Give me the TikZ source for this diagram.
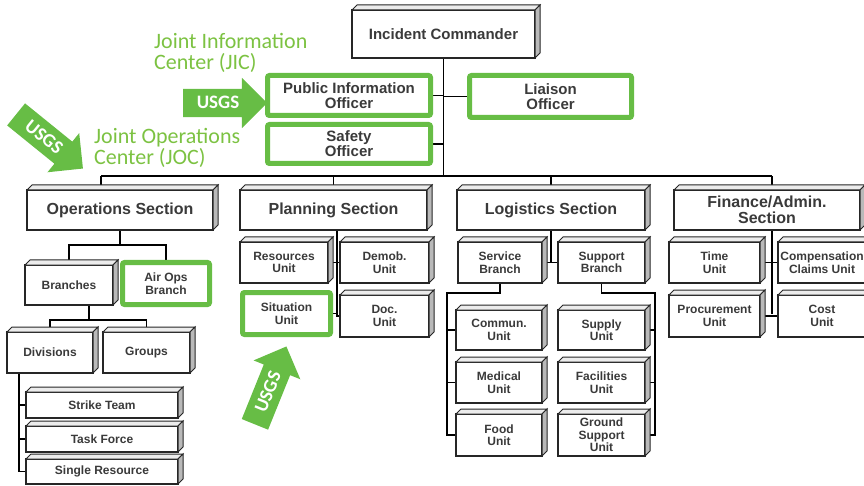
\documentclass[tikz,border=0pt]{standalone}
\usepackage{fontspec}
\setmainfont{Liberation Sans}
\newfontfamily\carlito{Carlito}
\usetikzlibrary{shapes.arrows}
\definecolor{usgsgreen}{RGB}{103,189,69}
\definecolor{labelgreen}{RGB}{124,194,66}
\definecolor{boxtext}{RGB}{58,58,58}
\pgfdeclarelayer{back}
\pgfsetlayers{back,main}

\begin{document}
\begin{tikzpicture}[x=1pt,y=-1pt,
chartbox/.style={draw=black!85, line width=1.2pt, fill=white, text=boxtext, align=center, inner sep=0pt, outer sep=0pt, font=\bfseries\fontsize{12}{12.5}\selectfont},
secbox/.style={chartbox, font=\bfseries\fontsize{16}{16}\selectfont},
offbox/.style={chartbox, font=\bfseries\fontsize{15}{15}\selectfont},
greenbox/.style={chartbox, draw=usgsgreen, line width=5pt, rounded corners=2pt},
wire/.style={draw=black, line width=1.5pt},
bevel/.style={draw=black!85, line width=1pt, fill=#1},
jic/.style={text=labelgreen, align=left, inner sep=0pt, font=\carlito\fontsize{22}{21}\selectfont},
usgs/.style={single arrow, fill=usgsgreen, text=white, single arrow head extend=11pt, inner xsep=3pt, inner ysep=8pt, text height=12pt, text depth=0pt, minimum height=#1, font=\carlito\bfseries\fontsize{19}{19}\selectfont}
]
\useasboundingbox (0,0) rectangle (864,486);

\node[offbox, minimum width=183pt, minimum height=48pt] (ic) at (443.5,34) {Incident Commander};
\node[offbox, greenbox, font=\bfseries\fontsize{15}{15}\selectfont, minimum width=163pt, minimum height=40pt] (pio) at (349,95.5) {Public Information\\Officer};
\node[offbox, greenbox, font=\bfseries\fontsize{15}{15}\selectfont, minimum width=163pt, minimum height=39pt] (safety) at (349,144) {Safety\\Officer};
\node[offbox, greenbox, font=\bfseries\fontsize{15}{15}\selectfont, minimum width=162pt, minimum height=42pt] (liaison) at (550.5,96.5) {Liaison\\Officer};

\node[secbox, minimum width=186pt, minimum height=40pt] (ops) at (120,210) {Operations Section};
\node[secbox, minimum width=187pt, minimum height=40pt] (plan) at (333.5,210) {Planning Section};
\node[secbox, minimum width=188pt, minimum height=40pt] (log) at (551,210) {Logistics Section};
\node[secbox, minimum width=186pt, minimum height=40pt] (fin) at (767,210) {Finance/Admin.\\Section};

\node[chartbox, minimum width=88pt, minimum height=40pt] (branch) at (69,285) {Branches};
\node[greenbox, minimum width=87pt, minimum height=42pt] (airops) at (166,283.5) {Air Ops\\Branch};
\node[chartbox, minimum width=86pt, minimum height=41pt] (div) at (50,352.5) {Divisions};
\node[chartbox, minimum width=87pt, minimum height=41pt] (groups) at (146.5,352.5) {Groups};
\node[chartbox, minimum width=152pt, minimum height=26pt] (strike) at (102,405) {Strike Team};
\node[chartbox, minimum width=152pt, minimum height=26pt] (task) at (102,439) {Task Force};
\node[chartbox, minimum width=152pt, minimum height=25pt] (single) at (102,471.5) {Single Resource};

\node[chartbox, minimum width=88pt, minimum height=41pt] (res) at (284,262.5) {Resources\\Unit};
\node[chartbox, minimum width=89pt, minimum height=41pt] (demob) at (384.5,262.5) {Demob.\\Unit};
\node[greenbox, minimum width=88pt, minimum height=42pt] (situation) at (286.5,313.5) {Situation\\Unit};
\node[chartbox, minimum width=89pt, minimum height=42pt] (doc) at (384.5,316) {Doc.\\Unit};

\node[chartbox, minimum width=84pt, minimum height=41pt] (srv) at (500,262.5) {Service\\Branch};
\node[chartbox, minimum width=87pt, minimum height=41pt] (sup) at (601.5,262.5) {Support\\Branch};
\node[chartbox, minimum width=86pt, minimum height=40pt] (comm) at (499,330) {Commun.\\Unit};
\node[chartbox, minimum width=86pt, minimum height=41pt] (med) at (499,382.5) {Medical\\Unit};
\node[chartbox, minimum width=86pt, minimum height=42pt] (food) at (499,435) {Food\\Unit};
\node[chartbox, minimum width=87pt, minimum height=40pt] (supply) at (601.5,330) {Supply\\Unit};
\node[chartbox, minimum width=87pt, minimum height=41pt] (fac) at (601.5,382.5) {Facilities\\Unit};
\node[chartbox, minimum width=87pt, minimum height=42pt] (ground) at (601.5,435) {Ground\\Support\\Unit};

\node[chartbox, minimum width=91pt, minimum height=41pt] (time) at (714.5,262.5) {Time\\Unit};
\node[chartbox, minimum width=88pt, minimum height=41pt] (comp) at (822,262.5) {Compensation\\Claims Unit};
\node[chartbox, minimum width=91pt, minimum height=42pt] (proc) at (714.5,316) {Procurement\\Unit};
\node[chartbox, minimum width=88pt, minimum height=42pt] (cost) at (822,316) {Cost\\Unit};

\foreach \n in {ic,ops,plan,log,fin,branch,div,groups,strike,task,single,res,demob,doc,srv,sup,comm,med,food,supply,fac,ground,time,comp,proc,cost}
{
\draw[bevel=gray!15] (\n.north west) -- ++(5,-5) -- ([shift={(5,-5)}]\n.north east) -- (\n.north east) -- cycle;
\draw[bevel=gray!55] (\n.north east) -- ([shift={(5,-5)}]\n.north east) -- ([shift={(5,-5)}]\n.south east) -- (\n.south east) -- cycle;
}

\begin{pgfonlayer}{back}
\coordinate (bar) at (443.5,176);
\coordinate (barL) at (101,176);
\coordinate (barR) at (772,176);
\draw[wire] (ic.south) -- (bar);
\draw[wire] (pio.east) -- (pio.east -| bar);
\draw[wire] (safety.east) -- (safety.east -| bar);
\draw[wire] (liaison.west) -- (liaison.west -| bar);
\draw[wire] (barL) -- (barR);
\draw[wire] (barL) -- (barL |- ops.north);
\draw[wire] (plan.north |- barL) -- (plan.north);
\draw[wire] (log.north |- barL) -- (log.north);
\draw[wire] (barR) -- (barR |- fin.north);

\draw[wire] (ops.south) -- ++(0,15) coordinate (opsbus);
\draw[wire] (branch.north) |- (opsbus) -| (airops.north);
\coordinate (brbus) at (89,320);
\draw[wire] (brbus |- branch.south) -- (brbus);
\draw[wire] (div.north) |- (brbus) -| (groups.north);
\coordinate (divtrunk) at (19,373);
\draw[wire] (divtrunk) |- (single.west);
\foreach \n in {strike,task}
\draw[wire] (\n.west -| divtrunk) -- (\n.west);

\coordinate (plantrunk) at (337,317);
\draw[wire] (plantrunk |- plan.south) -- (plantrunk);
\foreach \n in {res,situation}
\draw[wire] (\n.east) -- (\n.east -| plantrunk);
\foreach \n in {demob,doc}
\draw[wire] (\n.west) -- (\n.west -| plantrunk);

\draw[wire] (log.south) |- (srv.east);
\draw[wire] (log.south) |- (sup.west);
\coordinate (srvtrunk) at (447,293);
\draw[wire] (srv.south) |- (srvtrunk) |- (food.west);
\foreach \n in {comm,med}
\draw[wire] (\n.west -| srvtrunk) -- (\n.west);
\coordinate (suptrunk) at (655,293);
\draw[wire] (sup.south) |- (suptrunk) |- (ground.east);
\foreach \n in {supply,fac}
\draw[wire] (\n.east -| suptrunk) -- (\n.east);

\coordinate (fintrunk) at (772,314);
\draw[wire] (fintrunk |- fin.south) -- (fintrunk);
\foreach \n in {time,proc}
\draw[wire] (\n.east) -- (\n.east -| fintrunk);
\foreach \n in {comp,cost}
\draw[wire] (\n.west) -- (\n.west -| fintrunk);
\end{pgfonlayer}

\node[jic, anchor=west] (jiclabel) at (154,53) {Joint Information\\Center (JIC)};
\node[jic, anchor=west] (joclabel) at (94,147.5) {Joint Operations\\Center (JOC)};
\node[usgs=84pt] (arrowjic) at (218,103) {USGS};
\node[usgs=86pt, rotate=-39] (arrowjoc) at (44,137) {USGS};
\node[usgs=84pt, rotate=68] (arrowsit) at (268,392) {USGS};
\end{tikzpicture}
\end{document}
